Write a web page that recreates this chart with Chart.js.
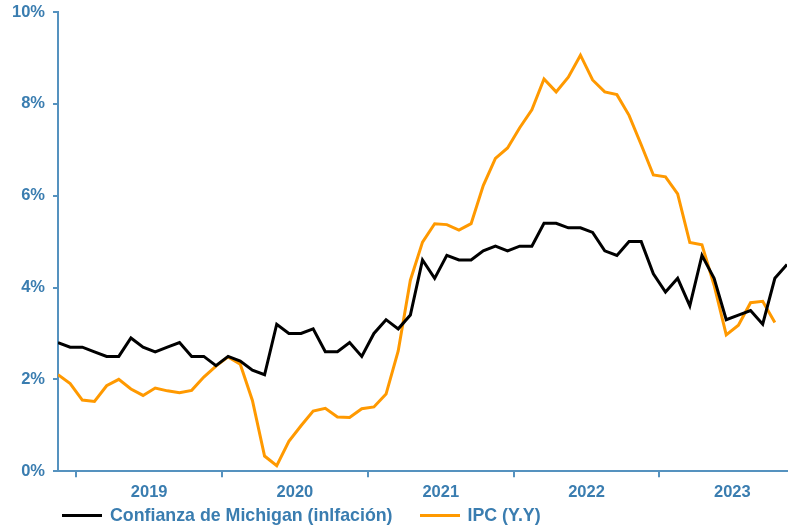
<!DOCTYPE html>
<html lang="es">
<head>
<meta charset="utf-8" />
<title>Confianza de Michigan vs IPC</title>
<script src="https://cdn.jsdelivr.net/npm/chart.js@4"></script>
<style>
  html, body { margin: 0; padding: 0; background: #fff; }
  .wrap { position: relative; width: 798px; height: 529px; }
  .legend {
    position: absolute;
    left: 62px;
    top: 503px;
    height: 24px;
    display: flex;
    align-items: center;
    font: bold 17.8px "Liberation Sans", Arial, sans-serif;
    color: #3a7db0;
    white-space: nowrap;
  }
  .legend-item { display: flex; align-items: center; }
  .legend-line { width: 40px; height: 3px; margin-right: 8px; }
  .legend-item + .legend-item { margin-left: 27px; }
</style>
</head>
<body>
<div class="wrap">
  <canvas id="chart" width="798" height="529"></canvas>
  <div class="legend" id="legend"></div>
</div>
<script>
// monthly, Nov 2018 .. Nov 2023
const months = [
  '2018-11', '2018-12',
  '2019-01', '2019-02', '2019-03', '2019-04', '2019-05', '2019-06', '2019-07', '2019-08', '2019-09', '2019-10', '2019-11', '2019-12',
  '2020-01', '2020-02', '2020-03', '2020-04', '2020-05', '2020-06', '2020-07', '2020-08', '2020-09', '2020-10', '2020-11', '2020-12',
  '2021-01', '2021-02', '2021-03', '2021-04', '2021-05', '2021-06', '2021-07', '2021-08', '2021-09', '2021-10', '2021-11', '2021-12',
  '2022-01', '2022-02', '2022-03', '2022-04', '2022-05', '2022-06', '2022-07', '2022-08', '2022-09', '2022-10', '2022-11', '2022-12',
  '2023-01', '2023-02', '2023-03', '2023-04', '2023-05', '2023-06', '2023-07', '2023-08', '2023-09', '2023-10', '2023-11'
];

const michigan = [
  2.8, 2.7,
  2.7, 2.6, 2.5, 2.5, 2.9, 2.7, 2.6, 2.7, 2.8, 2.5, 2.5, 2.3,
  2.5, 2.4, 2.2, 2.1, 3.2, 3.0, 3.0, 3.1, 2.6, 2.6, 2.8, 2.5,
  3.0, 3.3, 3.1, 3.4, 4.6, 4.2, 4.7, 4.6, 4.6, 4.8, 4.9, 4.8,
  4.9, 4.9, 5.4, 5.4, 5.3, 5.3, 5.2, 4.8, 4.7, 5.0, 5.0, 4.3,
  3.9, 4.2, 3.6, 4.7, 4.2, 3.3, 3.4, 3.5, 3.2, 4.2, 4.5
];

// IPC has no value yet for the last month
const ipc = [
  2.1, 1.91,
  1.55, 1.52, 1.86, 2.0, 1.79, 1.65, 1.81, 1.75, 1.71, 1.76, 2.05, 2.29,
  2.49, 2.33, 1.54, 0.33, 0.12, 0.65, 0.99, 1.31, 1.37, 1.18, 1.17, 1.36,
  1.4, 1.68, 2.62, 4.16, 4.99, 5.39, 5.37, 5.25, 5.39, 6.22, 6.81, 7.04,
  7.48, 7.87, 8.54, 8.26, 8.58, 9.06, 8.52, 8.26, 8.2, 7.75, 7.11, 6.45,
  6.41, 6.04, 4.98, 4.93, 4.05, 2.97, 3.18, 3.67, 3.7, 3.24
];

const yearLabels = ['2019', '2020', '2021', '2022', '2023'];
const yTicks = [0, 2, 4, 6, 8, 10];

const seriesNames = ['Confianza de Michigan (inlfación)', 'IPC (Y.Y)'];
const seriesColors = ['#000000', '#ff9900'];

const TEXT_COLOR = '#3a7db0';
const AXIS_COLOR = '#5592bf';
const tickFont = { family: '"Liberation Sans", Arial, sans-serif', size: 16.5, weight: 'bold' };

// middle of each year on the month index scale
const yearCenters = yearLabels.map((year) => months.indexOf(`${year}-01`) + 5.5);

const toPoints = (values) => values.map((v, i) => ({ x: i, y: v }));

document.getElementById('legend').innerHTML = seriesNames
  .map((name, i) => `<div class="legend-item"><span class="legend-line" style="background:${seriesColors[i]}"></span>${name}</div>`)
  .join('');

new Chart(document.getElementById('chart'), {
  type: 'line',
  data: {
    datasets: [
      {
        label: seriesNames[0],
        data: toPoints(michigan),
        borderColor: seriesColors[0],
        backgroundColor: seriesColors[0],
        borderWidth: 3,
        pointRadius: 0,
        tension: 0
      },
      {
        label: seriesNames[1],
        data: toPoints(ipc),
        borderColor: seriesColors[1],
        backgroundColor: seriesColors[1],
        borderWidth: 3,
        pointRadius: 0,
        tension: 0
      }
    ]
  },
  options: {
    responsive: false,
    animation: false,
    layout: { padding: { left: 4, right: 11, top: 12, bottom: 22 } },
    plugins: { legend: { display: false }, tooltip: { enabled: false } },
    scales: {
      x: {
        type: 'linear',
        min: 0,
        max: months.length - 1,
        afterBuildTicks: (axis) => {
          axis.ticks = yearCenters.map((value) => ({ value }));
        },
        ticks: {
          autoSkip: false,
          maxRotation: 0,
          padding: 5,
          color: TEXT_COLOR,
          font: tickFont,
          callback: (value) => yearLabels[yearCenters.indexOf(value)]
        },
        grid: { offset: true, drawOnChartArea: false, tickLength: 6, color: AXIS_COLOR, lineWidth: 2 },
        border: { color: AXIS_COLOR, width: 2 }
      },
      y: {
        min: 0,
        max: 10,
        afterBuildTicks: (axis) => {
          axis.ticks = yTicks.map((value) => ({ value }));
        },
        afterFit: (scale) => {
          // let the top label sit above the plot like the original
          scale.paddingTop = 0;
          scale.paddingBottom = 0;
        },
        ticks: {
          padding: 8,
          color: TEXT_COLOR,
          font: tickFont,
          callback: (value) => `${value}%`
        },
        grid: { drawOnChartArea: false, tickLength: 5, color: AXIS_COLOR, lineWidth: 2 },
        border: { color: AXIS_COLOR, width: 2 }
      }
    }
  }
});
</script>
</body>
</html>
